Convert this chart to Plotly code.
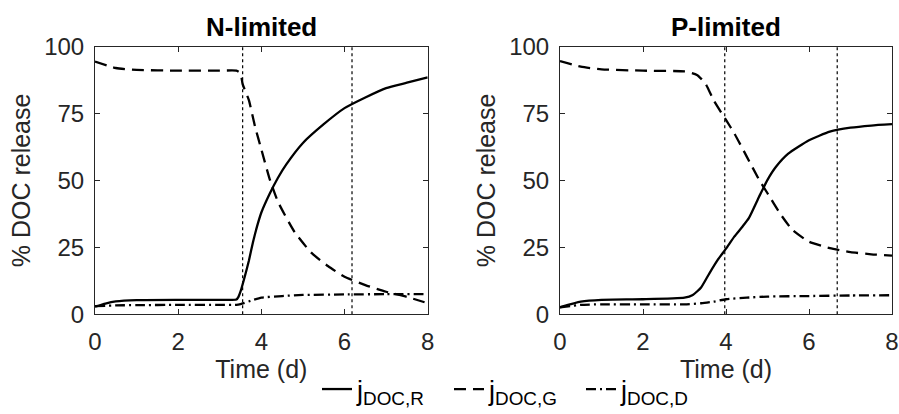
import plotly.graph_objects as go

# ---------------- data ----------------
# N-limited panel
tn_R = [0, 0.25, 0.5, 1, 2, 3, 3.4, 3.45, 3.5, 3.6, 3.7, 3.8, 3.9, 4.0, 4.2, 4.4, 4.6, 5.0, 5.5, 6.0, 6.5, 7.0, 7.5, 8.0]
n_R = [2.8, 4.0, 4.8, 5.3, 5.4, 5.4, 5.5, 6.5, 8.5, 14, 20, 27, 33, 38, 45, 51, 56, 64, 71, 77, 81, 84.5, 86.5, 88.5]
tn_G = [0, 0.5, 1, 2, 3, 3.4, 3.5, 3.55, 3.7, 3.85, 4.0, 4.2, 4.4, 4.8, 5.2, 5.6, 6.0, 6.5, 7.0, 7.5, 8.0]
n_G = [94.4, 92, 91.3, 91, 91, 91, 90, 86, 80, 70, 61.6, 50.5, 42, 30.7, 23, 18, 14, 10.9, 8.4, 6.5, 4.1]
tn_D = [0, 0.5, 1, 2, 3, 3.4, 3.5, 3.8, 4.0, 4.5, 5.0, 6.0, 7.0, 8.0]
n_D = [3.0, 3.3, 3.4, 3.5, 3.5, 3.5, 3.8, 5.3, 6.2, 6.8, 7.2, 7.4, 7.5, 7.5]

# P-limited panel
tp_R = [0, 0.5, 1, 2, 3, 3.2, 3.4, 3.6, 3.8, 4.0, 4.2, 4.4, 4.55, 4.8, 5.0, 5.2, 5.5, 6.0, 6.5, 7.0, 7.5, 8.0]
p_R = [2.6, 4.7, 5.4, 5.6, 6.2, 7.2, 10, 15.3, 20.3, 24.5, 29, 32.8, 35.9, 44, 50.2, 55, 60, 65, 68.2, 69.7, 70.5, 71]
tp_G = [0, 0.5, 1, 2, 3, 3.3, 3.5, 3.7, 3.9, 4.0, 4.2, 4.5, 4.8, 5.0, 5.3, 5.6, 6.0, 6.5, 7.0, 7.5, 8.0]
p_G = [94.6, 92.5, 91.5, 91, 90.7, 89.4, 86.3, 80, 75, 72.6, 67.6, 58.9, 50.2, 45.2, 37.7, 31.5, 27.1, 24.7, 23.2, 22.4, 21.9]
tp_D = [0, 0.5, 1, 2, 3, 3.4, 3.7, 4.0, 4.5, 5.0, 6.0, 7.0, 8.0]
p_D = [2.6, 3.5, 3.7, 3.7, 3.7, 4.1, 4.7, 5.6, 6.2, 6.6, 6.8, 7.0, 7.1]

phase_n = [3.55, 6.18]
phase_p = [3.97, 6.68]

panel_titles = ["N-limited", "P-limited"]
series_names = ["j<sub>DOC,R</sub>", "j<sub>DOC,G</sub>", "j<sub>DOC,D</sub>"]
x_ticks = [0, 2, 4, 6, 8]
y_ticks = [0, 25, 50, 75, 100]

# ---------------- figure ----------------
FONT = "Liberation Sans, Arial, sans-serif"
INK = "#262626"
dashes = ["solid", "12px,7px", "10px,4px,2px,4px"]

fig = go.Figure()
panels = [
    ("x", "y", [(tn_R, n_R), (tn_G, n_G), (tn_D, n_D)]),
    ("x2", "y2", [(tp_R, p_R), (tp_G, p_G), (tp_D, p_D)]),
]
for pi, (xa, ya, series) in enumerate(panels):
    for si, (t, v) in enumerate(series):
        fig.add_trace(go.Scatter(
            x=t, y=v, mode="lines", xaxis=xa, yaxis=ya,
            name=series_names[si], showlegend=(pi == 0),
            line=dict(color="black", width=2.3, dash=dashes[si],
                      shape="spline", smoothing=0.5),
        ))

for xv in phase_n:
    fig.add_shape(type="line", xref="x", yref="y domain", x0=xv, x1=xv, y0=0, y1=1,
                  line=dict(color="black", width=1.2, dash="dot"), layer="below")
for xv in phase_p:
    fig.add_shape(type="line", xref="x2", yref="y2 domain", x0=xv, x1=xv, y0=0, y1=1,
                  line=dict(color="black", width=1.2, dash="dot"), layer="below")

W, H = 899, 414
ydom = [1 - 315 / H, 1 - 46.7 / H]
xdom1 = [95 / W, 427.7 / W]
xdom2 = [560 / W, 892 / W]

axis_common = dict(
    showline=True, linecolor=INK, linewidth=1, mirror="ticks",
    ticks="inside", ticklen=5, tickcolor=INK, tickwidth=1,
    showgrid=False, zeroline=False, automargin=False,
    tickfont=dict(family=FONT, size=24, color=INK),
)
xcommon = dict(axis_common, range=[0, 8], tickvals=x_ticks, ticklabelstandoff=6,
               title=dict(text="Time (d)", font=dict(family=FONT, size=25, color=INK), standoff=2))
ycommon = dict(axis_common, range=[0, 100], tickvals=y_ticks, ticklabelstandoff=5,
               title=dict(text="% DOC release", font=dict(family=FONT, size=25, color=INK), standoff=6))

fig.update_layout(
    width=W, height=H,
    margin=dict(l=0, r=0, t=0, b=0),
    paper_bgcolor="white", plot_bgcolor="white",
    xaxis=dict(xcommon, domain=xdom1, anchor="y"),
    yaxis=dict(ycommon, domain=ydom, anchor="x"),
    xaxis2=dict(xcommon, domain=xdom2, anchor="y2"),
    yaxis2=dict(ycommon, domain=ydom, anchor="x2"),
    legend=dict(orientation="h", x=317 / W, xanchor="left", y=1 - 390 / H, yanchor="middle",
                font=dict(family=FONT, size=27, color="black"), bgcolor="rgba(0,0,0,0)",
                itemwidth=30, tracegroupgap=0, entrywidth=87, entrywidthmode="pixels"),
    showlegend=True,
)

for i, title in enumerate(panel_titles):
    dom = xdom1 if i == 0 else xdom2
    fig.add_annotation(text=f"<b>{title}</b>", xref="paper", yref="paper",
                       x=(dom[0] + dom[1]) / 2, y=1 - 27 / H, xanchor="center", yanchor="middle",
                       showarrow=False, font=dict(family=FONT, size=26, color="black"))

fig.write_html(
    "out.html",
    config={"displayModeBar": False},
    post_script="document.body.style.margin='0px';document.body.style.overflow='hidden';",
)
